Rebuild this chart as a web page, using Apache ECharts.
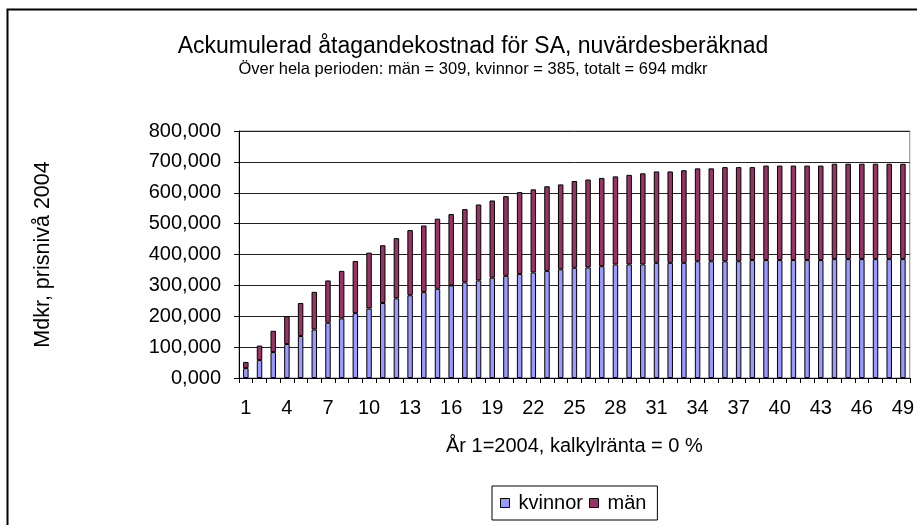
<!DOCTYPE html>
<html>
<head>
<meta charset="utf-8">
<script src="https://cdn.jsdelivr.net/npm/echarts@6/dist/echarts.min.js"></script>
<style>
html,body{margin:0;padding:0;background:#fff;}
#chart{width:917px;height:525px;}
</style>
</head>
<body>
<div id="chart"></div>
<script>
// Categories (år 1 = 2004)
const categories = ['1','2','3','4','5','6','7','8','9','10','11','12','13','14','15','16','17','18','19','20','21','22','23','24','25','26','27','28','29','30','31','32','33','34','35','36','37','38','39','40','41','42','43','44','45','46','47','48','49'];
// Kvinnor, ackumulerad kostnad (mdkr)
const kvinnor = [32,58,84,110,136,157,179,193,210,225,243,258,268,278,289,300,310,316,325,331,337,342,347,352,357,358,362,368,368,368,373,373,373,378,378,378,378,382,382,382,382,382,382,385,385,385,385,385,385];
// Män, ackumulerad kostnad (mdkr)
const man = [20,47,69,90,107,122,137,154,169,181,187,195,211,216,227,231,237,246,250,258,265,269,274,275,281,285,286,285,290,295,296,296,300,301,301,305,305,301,306,306,306,306,306,309,309,309,309,309,309];
// Y axis ticks
const yMin = 0, yMax = 800, yStep = 100;

const FONT = '"Liberation Sans", Arial, sans-serif';
const chart = echarts.init(document.getElementById('chart'), null, {renderer: 'canvas'});
chart.setOption({
  backgroundColor: '#ffffff',
  animation: false,
  title: {
    text: 'Ackumulerad åtagandekostnad för SA, nuvärdesberäknad',
    subtext: 'Över hela perioden: män = 309, kvinnor = 385, totalt = 694 mdkr',
    left: 468, top: 30, textAlign: 'center',
    itemGap: 3,
    textStyle: {fontFamily: FONT, fontSize: 23, fontWeight: 'normal', color: '#000'},
    subtextStyle: {fontFamily: FONT, fontSize: 16.5, color: '#000'}
  },
  legend: {
    data: ['kvinnor', 'män'],
    left: 492, top: 486,
    width: 300,
    orient: 'horizontal',
    borderColor: '#000', borderWidth: 1,
    padding: [7, 11, 7, 8],
    itemWidth: 9, itemHeight: 9, itemGap: 6,
    icon: 'rect',
    itemStyle: {borderColor: '#000', borderWidth: 1},
    textStyle: {fontFamily: FONT, fontSize: 20, color: '#000', padding: [0, 0, 0, 4]}
  },
  grid: {
    left: 239, right: 4, top: 131, bottom: 147,
    show: true, borderColor: '#888', borderWidth: 1, backgroundColor: '#fff'
  },
  xAxis: {
    type: 'category',
    data: categories,
    name: 'År 1=2004, kalkylränta = 0 %',
    nameLocation: 'middle', nameGap: 58,
    nameTextStyle: {fontFamily: FONT, fontSize: 20, color: '#000'},
    axisLine: {lineStyle: {color: '#000', width: 1}},
    axisTick: {show: true, interval: 0, length: 5, lineStyle: {color: '#000'}},
    axisLabel: {interval: 2, margin: 20, fontFamily: FONT, fontSize: 20, color: '#000'},
    splitLine: {show: false}
  },
  yAxis: {
    type: 'value',
    min: yMin, max: yMax, interval: yStep,
    name: 'Mdkr, prisnivå 2004',
    nameLocation: 'middle', nameGap: 185, nameRotate: 90,
    nameTextStyle: {fontFamily: FONT, fontSize: 21.5, color: '#000'},
    axisLine: {show: true, lineStyle: {color: '#000', width: 1}},
    axisTick: {show: true, length: 5, lineStyle: {color: '#000'}},
    axisLabel: {
      margin: 18, fontFamily: FONT, fontSize: 20, color: '#000',
      formatter: v => v.toFixed(3).replace('.', ',')
    },
    splitLine: {show: true, lineStyle: {color: '#222', width: 1}}
  },
  series: [
    {
      name: 'kvinnor', type: 'bar', stack: 'total', data: kvinnor,
      barWidth: '40%',
      itemStyle: {color: '#9999FF', borderColor: '#000', borderWidth: 1}
    },
    {
      name: 'män', type: 'bar', stack: 'total', data: man,
      barWidth: '40%',
      itemStyle: {color: '#993366', borderColor: '#000', borderWidth: 1}
    }
  ],
  graphic: [
    {
      type: 'rect', silent: true, z: -1,
      shape: {x: 7.5, y: 9.5, width: 930, height: 540},
      style: {fill: 'none', stroke: '#000', lineWidth: 2}
    }
  ]
});
</script>
</body>
</html>
